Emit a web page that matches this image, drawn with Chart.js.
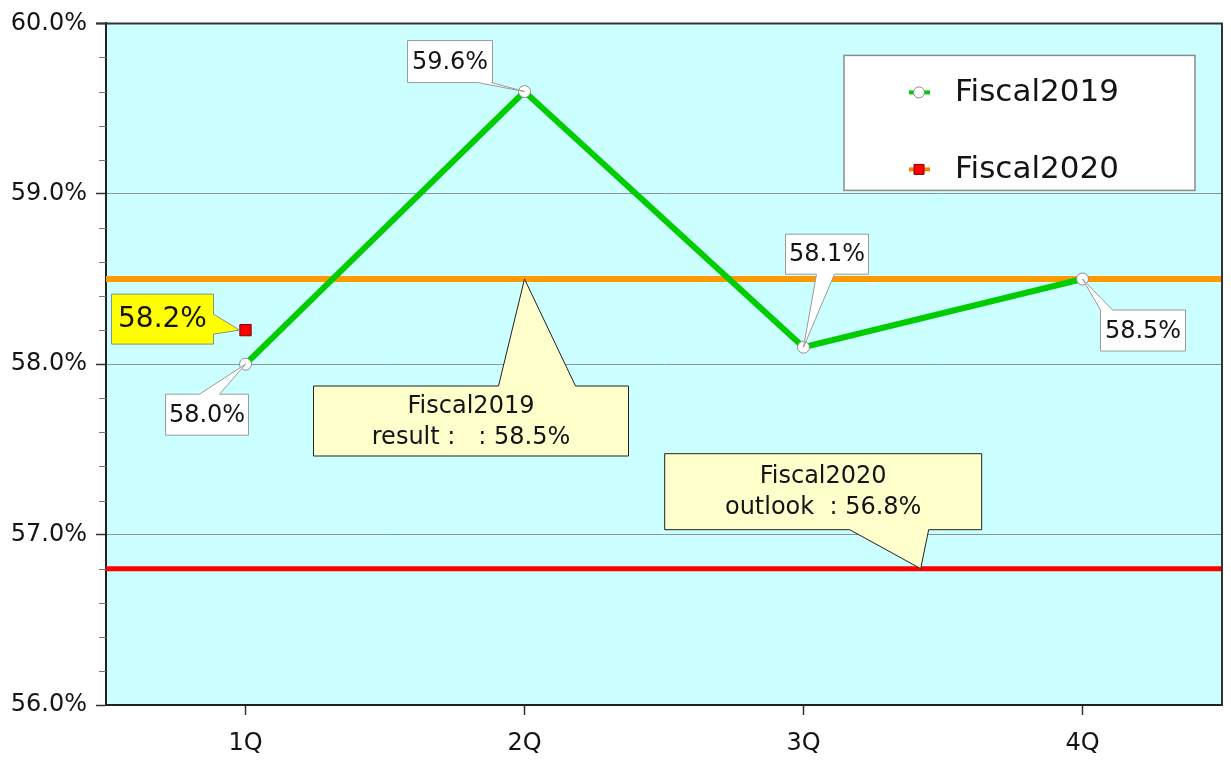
<!DOCTYPE html>
<html>
<head>
<meta charset="utf-8">
<script src="https://cdn.jsdelivr.net/npm/chart.js@4.4.1/dist/chart.umd.min.js"></script>
<style>
html, body { margin: 0; padding: 0; background: #fff; }
</style>
</head>
<body>
<canvas id="ratioCanvas" width="1231" height="760"></canvas>
<script>
// quarterly ratio, fiscal 2019 actuals vs fiscal 2020
const quarters = ['1Q', '2Q', '3Q', '4Q'];
const fiscal2019 = [58.0, 59.6, 58.1, 58.5];
const fiscal2020 = [58.2, null, null, null];
const fiscal2019Result = 58.5;
const fiscal2020Outlook = 56.8;
const yMin = 56.0;
const yMax = 60.0;

const FONT = '"DejaVu Sans", Verdana, sans-serif';
const TEXT = '#141414';

function isMajor(v) {
    return Math.abs(v - Math.round(v)) < 1e-6;
}
function pct(v) {
    return v.toFixed(1) + '%';
}

// callout boxes: box = [dx, dy, w, h] from the anchor, wedge base along one side
const callouts = [
    { ds: 0, i: 0, box: [-80, 30, 83, 41], side: 'top', base: [34, 54] },
    { ds: 0, i: 1, box: [-117, -51, 85, 42], side: 'bottom', base: [70, 84] },
    { ds: 0, i: 2, box: [-18, -113, 83, 40], side: 'bottom', base: [31, 49] },
    { ds: 0, i: 3, box: [18, 31, 85, 41], side: 'top', base: [0, 12] },
    { ds: 1, i: 0, box: [-134, -36, 102, 50], side: 'right', base: [20, 40], tipDx: -6,
      fill: '#ffff00', stroke: '#8c8c8c', size: 28 },
    { at: 1, value: fiscal2019Result, box: [-211, 107, 315, 70], side: 'top', base: [185, 262],
      lines: ['Fiscal2019', 'result :   : ' + pct(fiscal2019Result)], fill: '#ffffcc', stroke: '#222' },
    { at: 2.42, value: fiscal2020Outlook, box: [-256, -115, 317, 76], side: 'bottom', base: [185, 264],
      lines: ['Fiscal2020', 'outlook  : ' + pct(fiscal2020Outlook)], fill: '#ffffcc', stroke: '#222' }
];

function calloutPath(ctx, x, y, w, h, side, a, b, tx, ty) {
    ctx.beginPath();
    ctx.moveTo(x, y);
    if (side === 'top') { ctx.lineTo(x + a, y); ctx.lineTo(tx, ty); ctx.lineTo(x + b, y); }
    ctx.lineTo(x + w, y);
    if (side === 'right') { ctx.lineTo(x + w, y + a); ctx.lineTo(tx, ty); ctx.lineTo(x + w, y + b); }
    ctx.lineTo(x + w, y + h);
    if (side === 'bottom') { ctx.lineTo(x + b, y + h); ctx.lineTo(tx, ty); ctx.lineTo(x + a, y + h); }
    ctx.lineTo(x, y + h);
    if (side === 'left') { ctx.lineTo(x, y + b); ctx.lineTo(tx, ty); ctx.lineTo(x, y + a); }
    ctx.closePath();
}

const plotDecor = {
    id: 'plotDecor',
    beforeDraw(chart) {
        const { ctx, chartArea: a } = chart;
        ctx.save();
        ctx.fillStyle = '#ccffff';
        ctx.fillRect(a.left, a.top, a.right - a.left, a.bottom - a.top);
        ctx.restore();
    },
    beforeDatasetsDraw(chart) {
        const { ctx, chartArea: a, scales } = chart;
        const y = scales.y;
        ctx.save();
        // minor ticks on the value axis
        ctx.strokeStyle = '#777';
        ctx.lineWidth = 1;
        y.ticks.forEach(t => {
            if (isMajor(t.value)) return;
            const py = Math.round(y.getPixelForValue(t.value)) + 0.5;
            ctx.beginPath();
            ctx.moveTo(a.left - 7, py);
            ctx.lineTo(a.left, py);
            ctx.stroke();
        });
        // result and outlook reference lines
        [[fiscal2019Result, '#ff9900', 6], [fiscal2020Outlook, '#ff0000', 5]].forEach(([v, c, lw]) => {
            const py = y.getPixelForValue(v);
            ctx.strokeStyle = c;
            ctx.lineWidth = lw;
            ctx.beginPath();
            ctx.moveTo(a.left, py);
            ctx.lineTo(a.right, py);
            ctx.stroke();
        });
        ctx.restore();
    },
    afterDatasetsDraw(chart) {
        const { ctx, chartArea: a, scales } = chart;
        ctx.save();

        // frame on top and right
        ctx.strokeStyle = '#333';
        ctx.lineWidth = 2;
        ctx.beginPath();
        ctx.moveTo(a.left - 10, a.top);
        ctx.lineTo(a.right, a.top);
        ctx.lineTo(a.right, a.bottom);
        ctx.stroke();

        // value callouts
        callouts.forEach(c => {
            let ax, ay, lines;
            if (c.ds !== undefined) {
                const el = chart.getDatasetMeta(c.ds).data[c.i];
                ax = el.x;
                ay = el.y;
                lines = c.lines || [pct(chart.data.datasets[c.ds].data[c.i])];
            } else {
                ax = scales.x.getPixelForValue(c.at);
                ay = scales.y.getPixelForValue(c.value);
                lines = c.lines;
            }
            const [dx, dy, w, h] = c.box;
            const bx = ax + dx, by = ay + dy;
            calloutPath(ctx, bx, by, w, h, c.side, c.base[0], c.base[1], ax + (c.tipDx || 0), ay);
            ctx.fillStyle = c.fill || '#ffffff';
            ctx.fill();
            ctx.strokeStyle = c.stroke || '#9a9a9a';
            ctx.lineWidth = 1;
            ctx.stroke();

            const size = c.size || 24;
            const lh = lines.length > 1 ? 31 : 0;
            ctx.fillStyle = TEXT;
            ctx.font = size + 'px ' + FONT;
            ctx.textAlign = 'center';
            ctx.textBaseline = 'middle';
            lines.forEach((t, k) => {
                ctx.fillText(t, bx + w / 2, by + h / 2 + (k - (lines.length - 1) / 2) * lh + 1);
            });
        });

        // legend
        const lx = a.right - 378, ly = a.top + 32, lw = 351, lh2 = 135;
        ctx.fillStyle = '#ffffff';
        ctx.fillRect(lx, ly, lw, lh2);
        ctx.strokeStyle = '#8c8c8c';
        ctx.lineWidth = 1.5;
        ctx.strokeRect(lx, ly, lw, lh2);
        chart.data.datasets.forEach((ds, k) => {
            const cy = ly + 37 + k * 77;
            const mx = lx + 75;
            ctx.strokeStyle = ds.borderColor;
            ctx.lineWidth = 4;
            ctx.beginPath();
            ctx.moveTo(mx - 10, cy);
            ctx.lineTo(mx + 11, cy);
            ctx.stroke();
            ctx.fillStyle = ds.pointBackgroundColor;
            ctx.strokeStyle = ds.pointBorderColor;
            ctx.lineWidth = 1;
            ctx.beginPath();
            if (ds.pointStyle === 'rect') {
                ctx.rect(mx - 5, cy - 5, 10, 10);
            } else {
                ctx.arc(mx, cy, 5.5, 0, Math.PI * 2);
            }
            ctx.fill();
            ctx.stroke();
            ctx.fillStyle = TEXT;
            ctx.font = '31px ' + FONT;
            ctx.textAlign = 'left';
            ctx.textBaseline = 'middle';
            ctx.fillText(ds.label, lx + 111, cy + 1);
        });
        ctx.restore();
    }
};

const ctx = document.getElementById('ratioCanvas').getContext('2d');
const ratioChart = new Chart(ctx, {
    type: 'line',
    data: {
        labels: quarters,
        datasets: [{
            label: 'Fiscal2019',
            data: fiscal2019,
            borderColor: '#00cc00',
            borderWidth: 6,
            pointRadius: 6,
            pointBackgroundColor: '#ffffff',
            pointBorderColor: '#8c8c8c',
            pointBorderWidth: 1,
            tension: 0
        }, {
            label: 'Fiscal2020',
            data: fiscal2020,
            borderColor: '#ff8000',
            borderWidth: 4,
            pointStyle: 'rect',
            pointRadius: 8,
            pointBackgroundColor: '#ff0000',
            pointBorderColor: '#800000',
            pointBorderWidth: 1,
            showLine: false
        }]
    },
    plugins: [plotDecor],
    options: {
        responsive: false,
        animation: false,
        layout: { padding: { top: 22, right: 8, left: 0, bottom: 0 } },
        plugins: {
            legend: { display: false },
            tooltip: { enabled: false }
        },
        scales: {
            x: {
                offset: true,
                grid: { drawOnChartArea: false, drawTicks: true, tickLength: 10, tickColor: '#333', tickWidth: 1.5 },
                border: { color: '#222', width: 2 },
                ticks: { font: { family: FONT, size: 24 }, color: TEXT, padding: 14 },
                afterFit(scale) { scale.height = 55; }
            },
            y: {
                min: yMin,
                max: yMax,
                grid: {
                    color: c => isMajor(c.tick.value) ? '#8a9696' : 'rgba(0,0,0,0)',
                    tickColor: c => isMajor(c.tick.value) ? '#333' : 'rgba(0,0,0,0)',
                    tickLength: 10,
                    tickWidth: 1.5
                },
                border: { color: '#222', width: 2 },
                ticks: {
                    stepSize: 0.2,
                    autoSkip: false,
                    padding: 9,
                    font: { family: FONT, size: 24 },
                    color: TEXT,
                    callback: v => isMajor(v) ? pct(v) : ''
                },
                afterFit(scale) { scale.width = 106; }
            }
        }
    }
});
</script>
</body>
</html>
